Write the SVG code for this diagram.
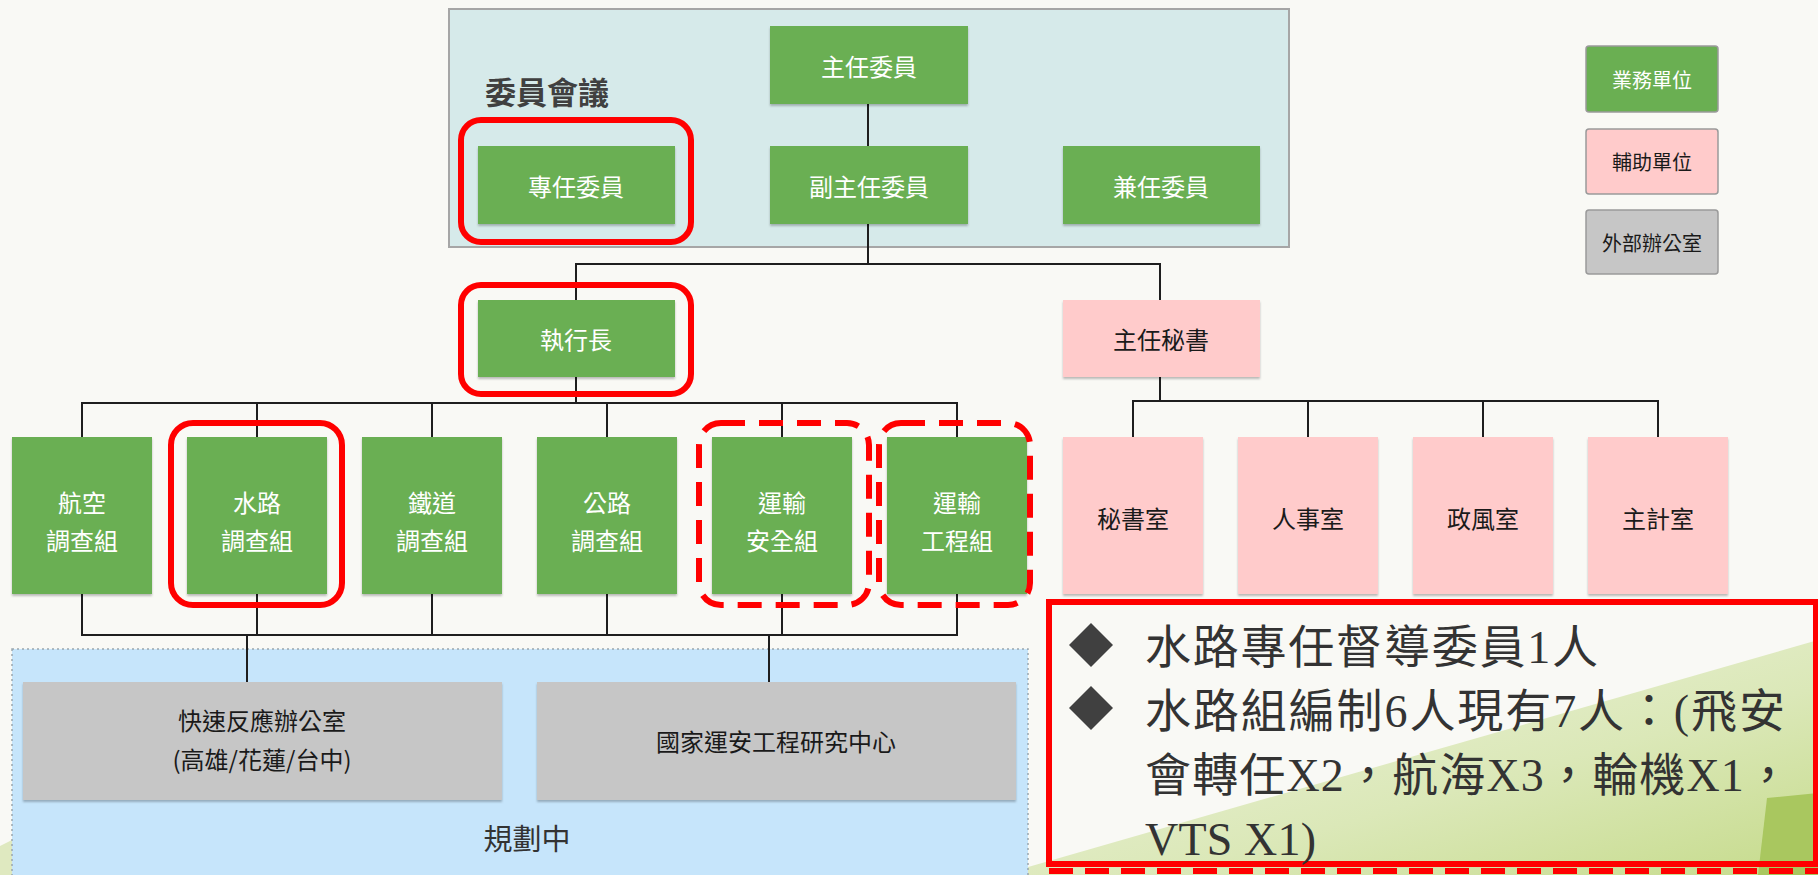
<svg xmlns="http://www.w3.org/2000/svg" width="1818" height="875" viewBox="0 0 1818 875">
<defs>
<linearGradient id="gbg" x1="0" y1="0" x2="1" y2="1">
<stop offset="0" stop-color="#f1f5e4"/>
<stop offset="0.6" stop-color="#dbe8b8"/>
<stop offset="1" stop-color="#c6db8c"/>
</linearGradient>
<filter id="sh" x="-5%" y="-5%" width="110%" height="115%">
<feDropShadow dx="0" dy="2" stdDeviation="1" flood-color="#000" flood-opacity="0.25"/>
</filter>
<style>
.t{font-family:"Noto Sans CJK TC","Noto Sans CJK SC",sans-serif;text-anchor:middle;dominant-baseline:central;}
.w{fill:#ffffff;font-size:24px;}
.d{fill:#1a1a1a;font-size:24px;}
.lg{font-size:20px;}
.g{fill:#6aaf52;filter:url(#sh);}
.p{fill:#ffcbcb;filter:url(#sh);}
.x{fill:#c6c6c6;filter:url(#sh);}
.lgb{stroke:#9a9a9a;stroke-width:1.5;}
.con line,.con path{stroke:#1e1e1e;stroke-width:2;fill:none;}
.rs{fill:none;stroke:#ff0000;stroke-width:6;}
.rd{fill:none;stroke:#ff0000;stroke-width:6;stroke-dasharray:24 14;}
.note{font-family:"Liberation Serif","Noto Sans CJK TC",serif;font-size:46px;fill:#333333;}
</style>
</defs>
<rect width="1818" height="875" fill="#f9f9f5"/>
<polygon points="1000,875 1818,640 1818,875" fill="url(#gbg)"/>
<polygon points="1767,798 1818,793 1818,875 1758,875" fill="#a9c75f"/>
<polygon points="0,846 12,840 12,875 0,875" fill="#dfe9c0"/>

<g id="committee">
<rect x="449" y="9" width="840" height="238" fill="#d6eaea" stroke="#a6a6a6" stroke-width="2"/>
<text class="t" x="485" y="90" style="text-anchor:start;font-size:31px;font-weight:bold;fill:#404040">委員會議</text>
</g>
<g id="planning">
<rect x="12" y="649" width="1016" height="230" fill="#c6e5fb" stroke="#9aa6ae" stroke-width="1.5" stroke-dasharray="2 3"/>
<text class="t" x="527" y="837" style="font-size:29px;fill:#333">規劃中</text>
</g>

<g class="con" id="connectors">
<line x1="868" y1="104" x2="868" y2="146"/>
<line x1="868" y1="224" x2="868" y2="264"/>
<path d="M576,300 V264 H1160 V300"/>
<line x1="576" y1="377" x2="576" y2="403"/>
<path d="M82,437 V403 H957 V437"/>
<line x1="257" y1="403" x2="257" y2="437"/>
<line x1="432" y1="403" x2="432" y2="437"/>
<line x1="607" y1="403" x2="607" y2="437"/>
<line x1="782" y1="403" x2="782" y2="437"/>
<path d="M82,594 V635 H957 V594"/>
<line x1="257" y1="594" x2="257" y2="635"/>
<line x1="432" y1="594" x2="432" y2="635"/>
<line x1="607" y1="594" x2="607" y2="635"/>
<line x1="782" y1="594" x2="782" y2="635"/>
<line x1="247" y1="635" x2="247" y2="682"/>
<line x1="769" y1="635" x2="769" y2="682"/>
<line x1="1160" y1="377" x2="1160" y2="401"/>
<path d="M1133,437 V401 H1658 V437"/>
<line x1="1308" y1="401" x2="1308" y2="437"/>
<line x1="1483" y1="401" x2="1483" y2="437"/>
</g>

<g id="n-chair"><rect class="g" x="770" y="26" width="198" height="78"/><text class="t w" x="869" y="65">主任委員</text></g>
<g id="n-fulltime"><rect class="g" x="478" y="146" width="197" height="78"/><text class="t w" x="576" y="185">專任委員</text></g>
<g id="n-vice"><rect class="g" x="770" y="146" width="198" height="78"/><text class="t w" x="869" y="185">副主任委員</text></g>
<g id="n-parttime"><rect class="g" x="1063" y="146" width="197" height="78"/><text class="t w" x="1161" y="185">兼任委員</text></g>
<g id="n-ceo"><rect class="g" x="478" y="300" width="197" height="77"/><text class="t w" x="576" y="338">執行長</text></g>
<g id="n-secgen"><rect class="p" x="1063" y="300" width="197" height="77"/><text class="t d" x="1161" y="338">主任秘書</text></g>

<g id="n-air"><rect class="g" x="12" y="437" width="140" height="157"/><text class="t w" x="82" y="501">航空</text><text class="t w" x="82" y="539">調查組</text></g>
<g id="n-marine"><rect class="g" x="187" y="437" width="140" height="157"/><text class="t w" x="257" y="501">水路</text><text class="t w" x="257" y="539">調查組</text></g>
<g id="n-rail"><rect class="g" x="362" y="437" width="140" height="157"/><text class="t w" x="432" y="501">鐵道</text><text class="t w" x="432" y="539">調查組</text></g>
<g id="n-road"><rect class="g" x="537" y="437" width="140" height="157"/><text class="t w" x="607" y="501">公路</text><text class="t w" x="607" y="539">調查組</text></g>
<g id="n-safety"><rect class="g" x="712" y="437" width="140" height="157"/><text class="t w" x="782" y="501">運輸</text><text class="t w" x="782" y="539">安全組</text></g>
<g id="n-eng"><rect class="g" x="887" y="437" width="140" height="157"/><text class="t w" x="957" y="501">運輸</text><text class="t w" x="957" y="539">工程組</text></g>

<g id="n-secoffice"><rect class="p" x="1063" y="437" width="140" height="157"/><text class="t d" x="1133" y="517">秘書室</text></g>
<g id="n-personnel"><rect class="p" x="1238" y="437" width="140" height="157"/><text class="t d" x="1308" y="517">人事室</text></g>
<g id="n-ethics"><rect class="p" x="1413" y="437" width="140" height="157"/><text class="t d" x="1483" y="517">政風室</text></g>
<g id="n-account"><rect class="p" x="1588" y="437" width="140" height="157"/><text class="t d" x="1658" y="517">主計室</text></g>

<g id="n-rapid"><rect class="x" x="23" y="682" width="479" height="118"/><text class="t d" x="262" y="719">快速反應辦公室</text><text class="t d" x="262" y="758">(高雄/花蓮/台中)</text></g>
<g id="n-research"><rect class="x" x="537" y="682" width="479" height="118"/><text class="t d" x="776" y="740">國家運安工程研究中心</text></g>

<g id="legend">
<g id="lg-biz"><rect class="lgb" x="1586" y="46" width="132" height="66" rx="3" fill="#6aaf52"/><text class="t lg" x="1652" y="79" fill="#ffffff">業務單位</text></g>
<g id="lg-sup"><rect class="lgb" x="1586" y="129" width="132" height="65" rx="3" fill="#ffcbcb"/><text class="t lg" x="1652" y="161" fill="#1a1a1a">輔助單位</text></g>
<g id="lg-ext"><rect class="lgb" x="1586" y="210" width="132" height="64" rx="3" fill="#c6c6c6"/><text class="t lg" x="1652" y="242" fill="#1a1a1a">外部辦公室</text></g>
</g>

<g id="highlights">
<rect class="rs" x="461" y="120" width="230" height="122" rx="20"/>
<rect class="rs" x="461" y="285" width="230" height="109" rx="20"/>
<rect class="rs" x="171" y="423" width="171" height="182" rx="22"/>
<rect class="rd" x="699" y="423" width="170" height="182" rx="22"/>
<rect class="rd" x="879" y="423" width="151" height="182" rx="22"/>
</g>

<g id="note">
<rect x="1049" y="602" width="767" height="262" fill="none" stroke="#ff0000" stroke-width="6"/>
<line x1="1049" y1="871" x2="1818" y2="871" stroke="#ff0000" stroke-width="6" stroke-dasharray="24 12"/>
<polygon points="1091,623 1113,645 1091,667 1069,645" fill="#404040"/>
<polygon points="1091,686 1113,708 1091,730 1069,708" fill="#404040"/>
<text class="note" x="1145" y="663" textLength="453" lengthAdjust="spacing">水路專任督導委員1人</text>
<text class="note" x="1145" y="727" textLength="640" lengthAdjust="spacing">水路組編制6人現有7人：(飛安</text>
<text class="note" x="1145" y="791" textLength="646" lengthAdjust="spacing">會轉任X2，航海X3，輪機X1，</text>
<text class="note" x="1145" y="855" textLength="171" lengthAdjust="spacing">VTS X1)</text>
</g>
</svg>
